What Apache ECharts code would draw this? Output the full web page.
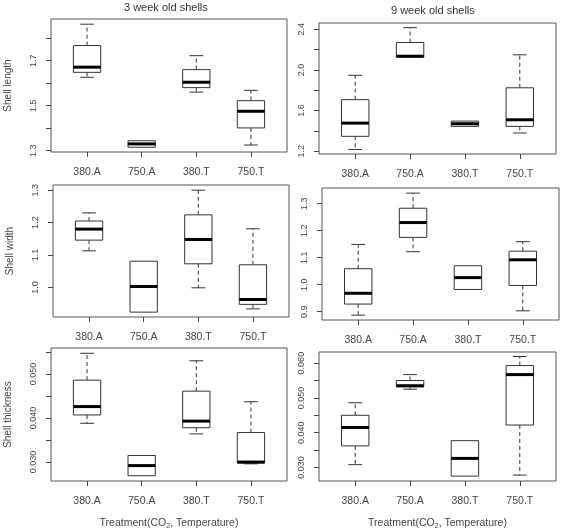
<!DOCTYPE html>
<html>
<head>
<meta charset="utf-8">
<script src="https://cdn.jsdelivr.net/npm/echarts@6/dist/echarts.min.js"></script>
<style>
  html, body { margin: 0; padding: 0; background: #fff; }
  #chart { width: 564px; height: 531px; }
</style>
</head>
<body>
<div id="chart"></div>
<script>
// treatment groups
var categories = ['380.A', '750.A', '380.T', '750.T'];

// five-number summaries per group: [min, Q1, median, Q3, max]
var length3wk = [
  [1.626, 1.648, 1.671, 1.767, 1.862],
  [1.315, 1.315, 1.330, 1.344, 1.344],
  [1.560, 1.580, 1.604, 1.660, 1.722],
  [1.325, 1.401, 1.475, 1.522, 1.568]
];
var length9wk = [
  [1.216, 1.346, 1.476, 1.707, 1.947],
  [2.127, 2.127, 2.135, 2.270, 2.416],
  [1.444, 1.444, 1.470, 1.496, 1.496],
  [1.379, 1.444, 1.509, 1.824, 2.149]
];
var width3wk = [
  [1.113, 1.146, 1.180, 1.205, 1.230],
  [0.924, 0.924, 1.003, 1.081, 1.081],
  [0.999, 1.073, 1.148, 1.224, 1.300],
  [0.934, 0.948, 0.963, 1.070, 1.181]
];
var width9wk = [
  [0.887, 0.928, 0.968, 1.059, 1.149],
  [1.122, 1.175, 1.230, 1.283, 1.339],
  [0.982, 0.982, 1.026, 1.070, 1.070],
  [0.903, 0.997, 1.092, 1.124, 1.159]
];
var thick3wk = [
  [0.0388, 0.0407, 0.0426, 0.0486, 0.0547],
  [0.0269, 0.0269, 0.0292, 0.0315, 0.0315],
  [0.0364, 0.0378, 0.0393, 0.0461, 0.0530],
  [0.0296, 0.0298, 0.0300, 0.0367, 0.0437]
];
var thick9wk = [
  [0.0308, 0.0362, 0.0415, 0.0450, 0.0486],
  [0.0525, 0.0532, 0.0535, 0.0550, 0.0567],
  [0.0275, 0.0275, 0.0326, 0.0377, 0.0377],
  [0.0278, 0.0422, 0.0567, 0.0593, 0.0619]
];

// y tick marks and labelled ticks
var ticksLen3 = [1.3, 1.4, 1.5, 1.6, 1.7, 1.8];
var labelsLen3 = [1.3, 1.5, 1.7];
var ticksLen9 = [1.2, 1.4, 1.6, 1.8, 2.0, 2.2, 2.4];
var labelsLen9 = [1.2, 1.6, 2.0, 2.4];
var ticksWid3 = [1.0, 1.1, 1.2, 1.3];
var ticksWid9 = [0.9, 1.0, 1.1, 1.2, 1.3];
var ticksThk3 = [0.030, 0.035, 0.040, 0.045, 0.050, 0.055];
var labelsThk3 = [0.030, 0.040, 0.050];
var ticksThk9 = [0.030, 0.035, 0.040, 0.045, 0.050, 0.055, 0.060];
var labelsThk9 = [0.030, 0.040, 0.050, 0.060];

var FONT = 'Liberation Sans';
var TXT = '#444';

var panels = [
  { data: length3wk, grid: [51, 19, 236, 133], ymin: 1.294, ymax: 1.885, ticks: ticksLen3, labels: labelsLen3, dec: 1, name: 'Shell length' },
  { data: length9wk, grid: [319, 23, 237, 131], ymin: 1.172, ymax: 2.462, ticks: ticksLen9, labels: labelsLen9, dec: 1, name: '' },
  { data: width3wk, grid: [53, 185, 236, 132], ymin: 0.909, ymax: 1.316, ticks: ticksWid3, labels: ticksWid3, dec: 1, name: 'Shell width' },
  { data: width9wk, grid: [322, 188, 237, 132], ymin: 0.869, ymax: 1.358, ticks: ticksWid9, labels: ticksWid9, dec: 1, name: '' },
  { data: thick3wk, grid: [51, 348, 236, 133], ymin: 0.0257, ymax: 0.0559, ticks: ticksThk3, labels: labelsThk3, dec: 3, name: 'Shell thickness', xname: true },
  { data: thick9wk, grid: [319, 352, 237, 132], ymin: 0.0261, ymax: 0.0632, ticks: ticksThk9, labels: labelsThk9, dec: 3, name: '', xname: true }
];

function renderBox(params, api) {
  var x = api.value(0);
  var mn = api.value(1), q1 = api.value(2), md = api.value(3), q3 = api.value(4), mx = api.value(5);
  var w = api.size([0.5, 0])[0];
  var half = w / 2, cap = w / 4;
  var cx = api.coord([x, md])[0];
  var yMin = api.coord([x, mn])[1];
  var yQ1 = api.coord([x, q1])[1];
  var yMd = api.coord([x, md])[1];
  var yQ3 = api.coord([x, q3])[1];
  var yMax = api.coord([x, mx])[1];
  var line = { stroke: '#333', lineWidth: 1 };
  var dash = { stroke: '#333', lineWidth: 1, lineDash: [4, 3] };
  var kids = [];
  if (yMax < yQ3 - 0.5) {
    kids.push({ type: 'line', shape: { x1: cx, y1: yQ3, x2: cx, y2: yMax }, style: dash });
    kids.push({ type: 'line', shape: { x1: cx - cap, y1: yMax, x2: cx + cap, y2: yMax }, style: line });
  }
  if (yMin > yQ1 + 0.5) {
    kids.push({ type: 'line', shape: { x1: cx, y1: yQ1, x2: cx, y2: yMin }, style: dash });
    kids.push({ type: 'line', shape: { x1: cx - cap, y1: yMin, x2: cx + cap, y2: yMin }, style: line });
  }
  kids.push({ type: 'rect', shape: { x: cx - half, y: yQ3, width: w, height: yQ1 - yQ3 },
    style: { fill: '#fff', stroke: '#333', lineWidth: 1 } });
  kids.push({ type: 'line', shape: { x1: cx - half, y1: yMd, x2: cx + half, y2: yMd },
    style: { stroke: '#000', lineWidth: 3 } });
  return { type: 'group', children: kids };
}

var grids = [], xAxes = [], yAxes = [], series = [];
panels.forEach(function (p, i) {
  grids.push({
    left: p.grid[0], top: p.grid[1], width: p.grid[2], height: p.grid[3],
    show: true, borderColor: '#555', borderWidth: 1, backgroundColor: 'transparent'
  });
  xAxes.push({
    type: 'value', gridIndex: i, min: 0.34, max: 4.66,
    axisLine: { show: false },
    splitLine: { show: false },
    axisTick: { show: true, length: 5, inside: false, customValues: [1, 2, 3, 4], lineStyle: { color: '#444' } },
    axisLabel: {
      customValues: [1, 2, 3, 4], margin: 15, color: TXT, fontFamily: FONT, fontSize: 10.5,
      formatter: function (v) { return categories[Math.round(v) - 1]; }
    },
    name: p.xname ? 'Treatment(CO{sub|2}, Temperature)' : '',
    nameLocation: 'middle', nameGap: 36,
    nameTextStyle: {
      color: TXT, fontFamily: FONT, fontSize: 10.5,
      rich: { sub: { fontSize: 7, padding: [6, 0, 0, 0], color: TXT, fontFamily: FONT } }
    }
  });
  yAxes.push({
    type: 'value', gridIndex: i, min: p.ymin, max: p.ymax,
    axisLine: { show: false },
    splitLine: { show: false },
    axisTick: { show: true, length: 5, inside: false, customValues: p.ticks, lineStyle: { color: '#444' } },
    axisLabel: {
      customValues: p.labels, rotate: 90, margin: 13, color: TXT, fontFamily: FONT, fontSize: 9,
      formatter: function (v) { return v.toFixed(p.dec); }
    },
    name: p.name, nameLocation: 'middle', nameGap: 38,
    nameTextStyle: { color: TXT, fontFamily: FONT, fontSize: 10 }
  });
  series.push({
    type: 'custom', xAxisIndex: i, yAxisIndex: i,
    renderItem: renderBox,
    encode: { x: 0, y: [1, 2, 3, 4, 5] },
    data: p.data.map(function (v, j) { return [j + 1].concat(v); }),
    silent: true, animation: false
  });
});

var chart = echarts.init(document.getElementById('chart'));
chart.setOption({
  backgroundColor: '#fff',
  animation: false,
  grid: grids,
  xAxis: xAxes,
  yAxis: yAxes,
  series: series,
  graphic: [
    { type: 'text', left: 124, top: 2, style: { text: '3 week old shells', fill: '#333', font: '11px "Liberation Sans"' } },
    { type: 'text', left: 391, top: 5, style: { text: '9 week old shells', fill: '#333', font: '11px "Liberation Sans"' } }
  ]
});
window.addEventListener('resize', function () { chart.resize(); });
</script>
</body>
</html>
